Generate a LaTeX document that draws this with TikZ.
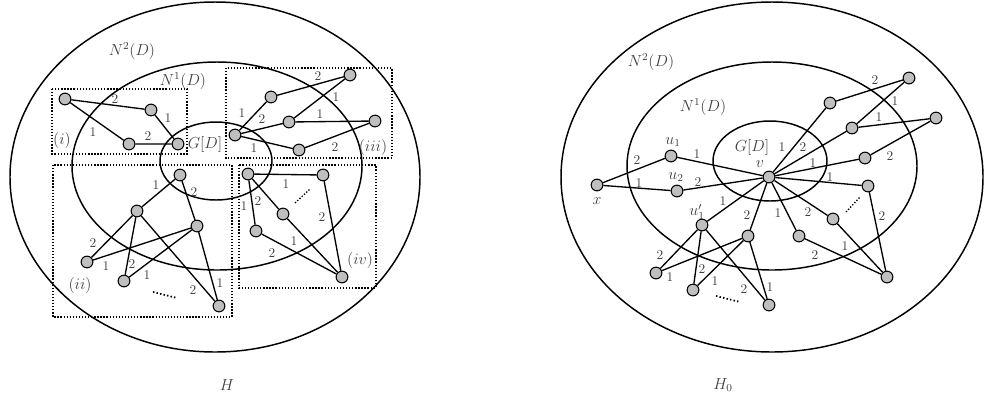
\documentclass[tikz,border=0pt]{standalone}
\begin{document}
\begin{tikzpicture}[x=0.75pt,y=-0.75pt,
  vtx/.style={circle,draw=black,fill=black!25,line width=0.8pt,minimum size=8.8pt,inner sep=0pt},
  edge/.style={line width=1pt},
  ell/.style={line width=1.1pt},
  box/.style={line width=1pt,dash pattern=on 1pt off 1.3pt},
  dots/.style={line width=1.3pt,dash pattern=on 1.1pt off 1.6pt},
  num/.style={text=black!75,font=\fontsize{10}{12}\selectfont,inner sep=0pt},
  lab/.style={text=black!75,font=\fontsize{12}{14}\selectfont,inner sep=0pt}]
\useasboundingbox (0,0) rectangle (984,405);

% ---------- left figure H ----------
\draw[ell] (215,177) ellipse [x radius=205, y radius=175];
\draw[ell] (217,166) ellipse [x radius=145, y radius=104];
\draw[ell] (216,161) ellipse [x radius=56, y radius=39];

\draw[box] (52,89) rectangle (187,154);
\draw[box] (226,68) rectangle (392,158);
\draw[box] (53,165) rectangle (232,317);
\draw[box] (239,165) rectangle (376,288);

\node[vtx] (a1) at (65,99) {};
\node[vtx] (a2) at (151,110) {};
\node[vtx] (a3) at (129,144) {};
\node[vtx] (a4) at (178,144) {};
\node[vtx] (b1) at (235,135) {};
\node[vtx] (b2) at (271,97) {};
\node[vtx] (b3) at (350,75) {};
\node[vtx] (b4) at (289,122) {};
\node[vtx] (b5) at (375,121) {};
\node[vtx] (b6) at (299,150) {};
\node[vtx] (c1) at (180,175) {};
\node[vtx] (c2) at (137,211) {};
\node[vtx] (c3) at (197,226) {};
\node[vtx] (c4) at (87,262) {};
\node[vtx] (c5) at (124,281) {};
\node[vtx] (c6) at (219,306) {};
\node[vtx] (d1) at (248,174) {};
\node[vtx] (d2) at (323,175) {};
\node[vtx] (d3) at (283,214) {};
\node[vtx] (d4) at (256,231) {};
\node[vtx] (d5) at (342,277) {};

\draw[edge] (a1)--(a2) (a1)--(a3) (a3)--(a4) (a2)--(a4);
\draw[edge] (b1)--(b2) (b2)--(b3) (b1)--(b4) (b4)--(b3) (b4)--(b5) (b1)--(b6) (b6)--(b5);
\draw[edge] (c1)--(c2) (c1)--(c3) (c2)--(c4) (c4)--(c3) (c2)--(c5) (c5)--(c3) (c2)--(c6) (c3)--(c6);
\draw[edge] (d1)--(d2) (d1)--(d4) (d1)--(d3) (d2)--(d5) (d3)--(d5) (d4)--(d5);
\draw[dots] (153,292)--(177,298);
\draw[box] (295,203)--(310,189);

\node[num] at (115,99) {2};
\node[num] at (93,132) {1};
\node[num] at (148,136) {2};
\node[num] at (168,118) {1};
\node[num] at (242,113) {1};
\node[num] at (318,76) {2};
\node[num] at (262,119) {2};
\node[num] at (336,97) {1};
\node[num] at (320,114) {1};
\node[num] at (254,148) {1};
\node[num] at (335,147) {2};
\node[num] at (156,185) {1};
\node[num] at (194,192) {2};
\node[num] at (93,243) {2};
\node[num] at (106,266) {1};
\node[num] at (132,264) {2};
\node[num] at (147,275) {1};
\node[num] at (193,290) {2};
\node[num] at (220,283) {1};
\node[num] at (286,184) {1};
\node[num] at (244,206) {1};
\node[num] at (258,201) {2};
\node[num] at (322,217) {2};
\node[num] at (294,241) {1};
\node[num] at (272,253) {2};

\node[lab] at (132,51) {$N^2(D)$};
\node[lab] at (183,81) {$N^1(D)$};
\node[lab] at (62,140) {$(i)$};
\node[lab] at (205,144) {$G[D]$};
\node[lab] at (373,147) {$(iii)$};
\node[lab] at (80,285) {$(ii)$};
\node[lab] at (360,260) {$(iv)$};
\node[lab] at (227,385) {$H$};

% ---------- right figure H_0 ----------
\draw[ell] (772,177) ellipse [x radius=211, y radius=175];
\draw[ell] (772,166) ellipse [x radius=145, y radius=104];
\draw[ell] (770,161) ellipse [x radius=57, y radius=40];

\node[vtx] (v) at (769,177) {};
\node[vtx] (x) at (597,185) {};
\node[vtx] (u1) at (671,156) {};
\node[vtx] (u2) at (677,191) {};
\node[vtx] (g1) at (830,103) {};
\node[vtx] (g2) at (909,78) {};
\node[vtx] (g3) at (852,128) {};
\node[vtx] (g4) at (936,118) {};
\node[vtx] (g5) at (865,158) {};
\node[vtx] (f1) at (868,186) {};
\node[vtx] (f2) at (833,219) {};
\node[vtx] (f4) at (887,277) {};
\node[vtx] (e1) at (702,225) {};
\node[vtx] (e2) at (748,236) {};
\node[vtx] (e3) at (799,236) {};
\node[vtx] (e4) at (656,273) {};
\node[vtx] (e5) at (693,290) {};
\node[vtx] (e6) at (769,305) {};

\draw[edge] (x)--(u1) (x)--(u2) (u1)--(v) (u2)--(v);
\draw[edge] (v)--(g1) (g1)--(g2) (v)--(g3) (g3)--(g2) (g3)--(g4) (v)--(g5) (g5)--(g4);
\draw[edge] (v)--(f1) (f1)--(f4) (v)--(f2) (f2)--(f4) (v)--(e3) (e3)--(f4);
\draw[edge] (v)--(e2) (v)--(e1);
\draw[edge] (e1)--(e4) (e4)--(e2) (e1)--(e5) (e5)--(e2) (e1)--(e6) (e2)--(e6);
\draw[dots] (716,296)--(740,302);
\draw[box] (846,212)--(860,197);

\node[num] at (637,160) {2};
\node[num] at (639,183) {1};
\node[num] at (697,154) {1};
\node[num] at (698,182) {2};
\node[num] at (782,147) {1};
\node[num] at (803,147) {2};
\node[num] at (813,163) {1};
\node[num] at (830,177) {1};
\node[num] at (875,80) {2};
\node[num] at (895,101) {1};
\node[num] at (879,117) {1};
\node[num] at (890,156) {2};
\node[num] at (882,216) {2};
\node[num] at (845,246) {1};
\node[num] at (815,255) {2};
\node[num] at (808,212) {2};
\node[num] at (778,213) {1};
\node[num] at (747,215) {2};
\node[num] at (723,201) {1};
\node[num] at (660,255) {2};
\node[num] at (670,277) {1};
\node[num] at (702,269) {2};
\node[num] at (715,281) {1};
\node[num] at (744,289) {2};
\node[num] at (770,287) {1};

\node[lab] at (651,62) {$N^2(D)$};
\node[lab] at (703,107) {$N^1(D)$};
\node[lab] at (752,147) {$G[D]$};
\node[lab] at (760,164) {$v$};
\node[lab] at (597,201) {$x$};
\node[lab] at (673,142) {$u_1$};
\node[lab] at (676,177) {$u_2$};
\node[lab] at (697,212) {$u_1'$};
\node[lab] at (723,385) {$H_0$};
\end{tikzpicture}
\end{document}
